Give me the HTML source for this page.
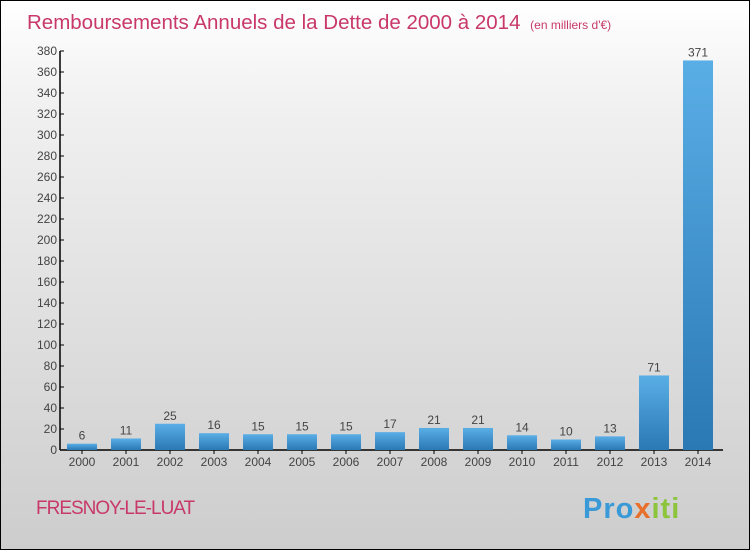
<!DOCTYPE html>
<html><head><meta charset="utf-8"><style>
body{margin:0}
#c{position:relative;width:748px;height:548px;border:1px solid #000;background:linear-gradient(#fff,#f0f0f0 20%,#cdcdcd);overflow:hidden;font-family:"Liberation Sans",sans-serif}
svg{position:absolute;left:0;top:0}
</style></head><body>
<div id="c">
<svg id="s" width="748" height="548">
<defs><linearGradient id="g" x1="0" y1="0" x2="0" y2="1"><stop offset="0" stop-color="#5aaee6"/><stop offset="1" stop-color="#2a78b4"/></linearGradient></defs>
<text x="26" y="28" font-size="20.5" fill="#c8386a">Remboursements Annuels de la Dette de 2000 à 2014 <tspan font-size="12" dx="4">(en milliers d'€)</tspan></text>
<text x="35" y="513" font-size="19" letter-spacing="-1" fill="#c8386a">FRESNOY-LE-LUAT</text>
<text x="582" y="517" font-size="29" font-weight="bold" letter-spacing="1" fill="#3a9ad8">Pro<tspan fill="#e8702a">x</tspan><tspan fill="#8cc43c">iti</tspan></text>
</svg>
</div>
<script>
const years=["2000","2001","2002","2003","2004","2005","2006","2007","2008","2009","2010","2011","2012","2013","2014"];
const values=[6,11,25,16,15,15,15,17,21,21,14,10,13,71,371];
const ticks=[0,20,40,60,80,100,120,140,160,180,200,220,240,260,280,300,320,340,360,380];
const s=document.getElementById('s'),NS='http://www.w3.org/2000/svg';
const y0=449,yk=(449-50)/380,x0=59,step=44;
const y=v=>y0-v*yk, xc=i=>81+i*step;
function el(t,a,txt){const e=document.createElementNS(NS,t);for(const k in a)e.setAttribute(k,a[k]);if(txt!==undefined)e.textContent=txt;s.appendChild(e);return e;}
let ax=el('line',{x1:x0,y1:y(380),x2:x0,y2:y0,stroke:'#000','stroke-width':1.5});


let bx=el('line',{x1:x0,y1:y0,x2:722,y2:y0,stroke:'#000','stroke-width':1.5});


ticks.forEach(t=>{
 let l=el('line',{x1:x0,y1:y(t),x2:x0+4,y2:y(t),stroke:'#000'});
 
 
 let tx=el('text',{x:x0-3,y:y(t)+4,'font-size':12,fill:'#444','text-anchor':'end'},t);
 
 
});
years.forEach((yr,i)=>{
 const v=values[i];
 let r=el('rect',{x:xc(i)-15,y:y(v),width:30,height:y0-y(v),fill:'url(#g)'});
 
 
 let lb=el('text',{x:xc(i),y:y(v)-4,'font-size':12,fill:'#444','text-anchor':'middle'},v);
 
 
 let tk=el('line',{x1:xc(i),y1:y0,x2:xc(i),y2:y0+4,stroke:'#000'});
 
 
 let xl=el('text',{x:xc(i),y:y0+16,'font-size':12,fill:'#444','text-anchor':'middle'},yr);
 
 
});
</script>
</body></html>
